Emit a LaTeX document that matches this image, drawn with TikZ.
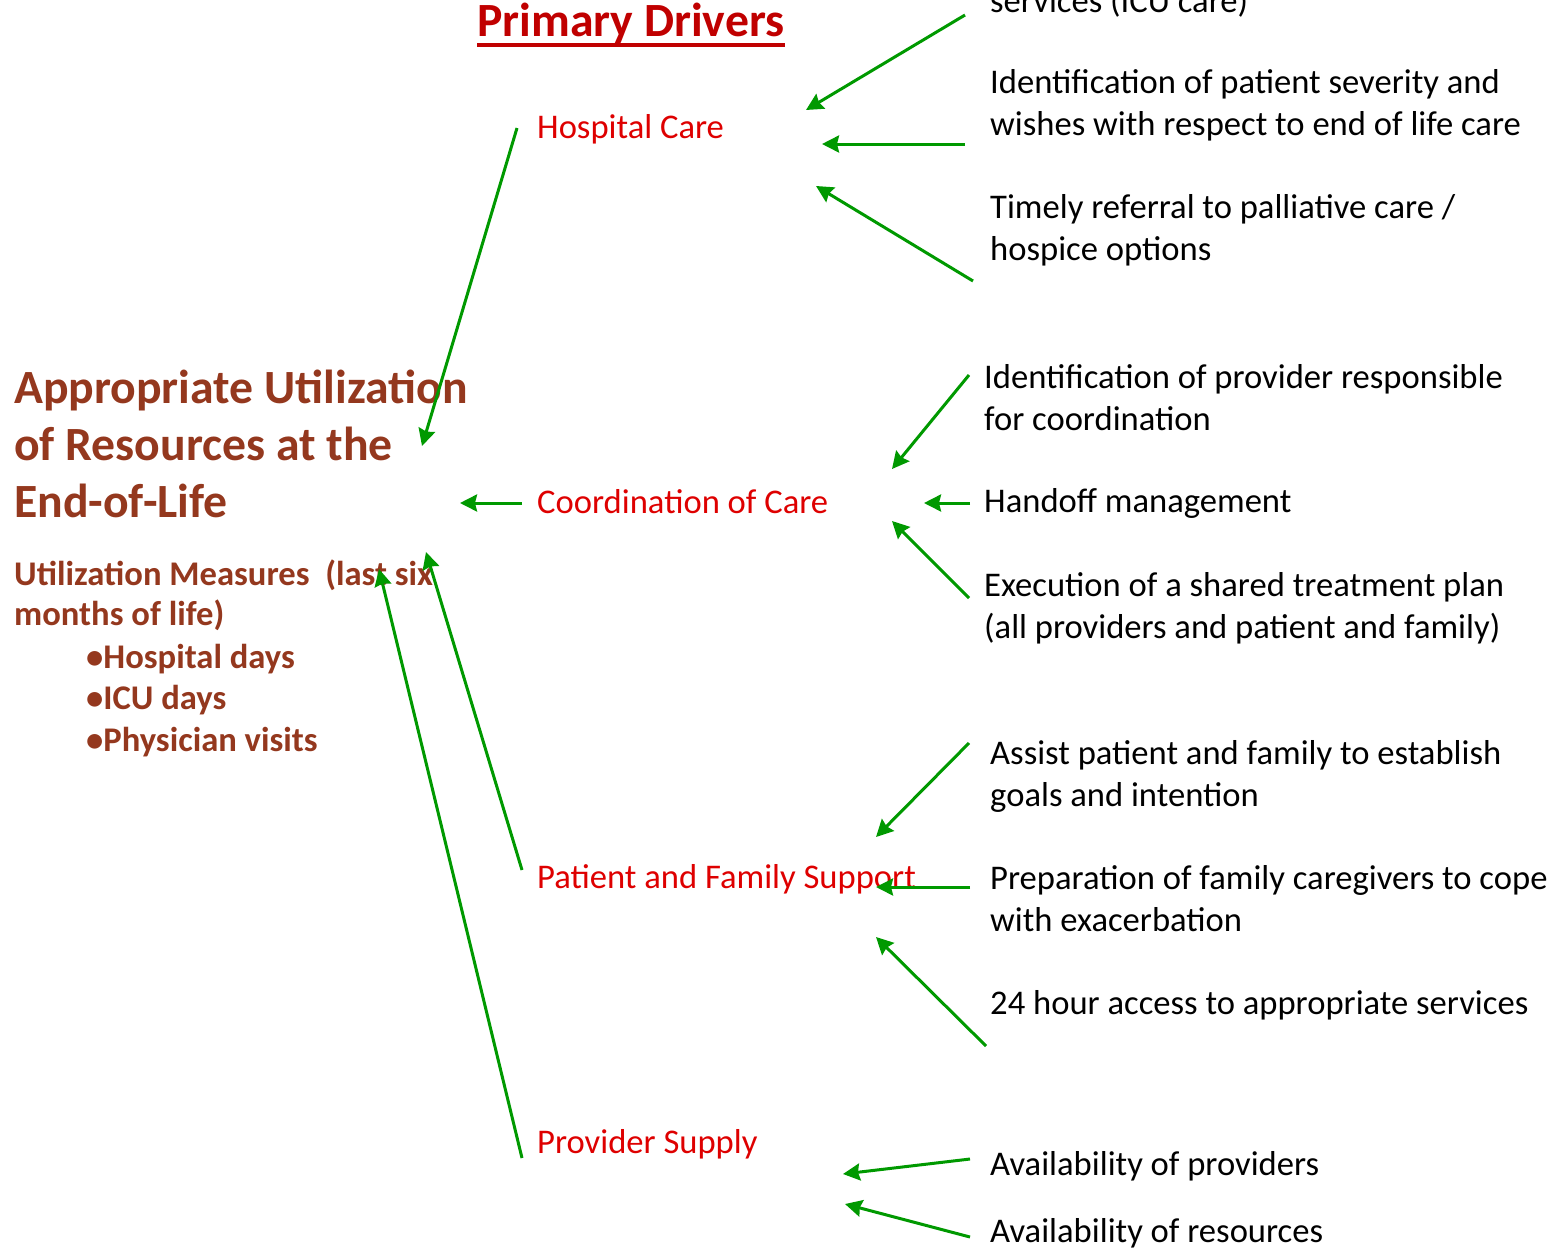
\documentclass[tikz,border=0pt]{standalone}
\usepackage{fontspec}
\setmainfont{Carlito}
\usepackage{tikz}
\usetikzlibrary{arrows.meta}
\definecolor{drvred}{RGB}{222,0,0}
\definecolor{headred}{RGB}{192,0,0}
\definecolor{aimbrown}{RGB}{148,56,30}
\definecolor{linkgreen}{RGB}{0,153,0}
\tikzstyle{drv}=[anchor=base west, inner sep=0pt, text=drvred, font=\fontsize{34.6}{42}\selectfont]
\tikzstyle{idea}=[anchor=base west, inner sep=0pt, align=left, font=\fontsize{34.6}{42}\selectfont]
\tikzstyle{aimtxt}=[anchor=base west, inner sep=0pt, align=left, text=aimbrown]
\tikzstyle{link}=[-{Stealth[length=17pt, width=17pt, inset=2pt]}, draw=linkgreen, line width=3pt]

\begin{document}
\begin{tikzpicture}[x=1pt, y=-1pt]
                    \useasboundingbox (0,0) rectangle (1554,1248);
                    % heading
                    \node [anchor=base west, inner sep=0pt, text=headred, font=\bfseries\fontsize{47.7}{57}\selectfont] (head) at (477,36) {Primary Drivers};
                    \draw [headred, line width=4pt] ([yshift=-8.5pt]head.base west) -- ([yshift=-8.5pt]head.base east);
                    % aim and its measures (base = last line)
                    \node [aimtxt, font=\bfseries\fontsize{47.7}{57}\selectfont] (aim) at (14,517) {Appropriate Utilization\\of Resources at the\\End-of-Life};
                    \node [aimtxt, font=\bfseries\fontsize{34.6}{40}\selectfont] (meas) at (14,625) {Utilization Measures\ \ (last six\\months of life)};
                    \node [aimtxt, font=\bfseries\fontsize{34.6}{41.5}\selectfont] (bul) at (86,751) {•Hospital days\\•ICU days\\•Physician visits};
                    % primary drivers
                    \node [drv] (hc) at (537,138) {Hospital Care};
                    \node [drv] (cc) at (537,513) {Coordination of Care};
                    \node [drv] (pf) at (537,888) {Patient and Family Support};
                    \node [drv] (ps) at (537,1153) {Provider Supply};
                    % secondary drivers
                    \node [idea] (icu) at (990,12) {services (ICU care)};
                    \node [idea] (sev) at (990,135) {Identification of patient severity and\\wishes with respect to end of life care};
                    \node [idea] (ref) at (990,260) {Timely referral to palliative care /\\hospice options};
                    \node [idea] (resp) at (984,430) {Identification of provider responsible\\for coordination};
                    \node [idea] (hand) at (984,512) {Handoff management};
                    \node [idea] (plan) at (984,638) {Execution of a shared treatment plan\\(all providers and patient and family)};
                    \node [idea] (goal) at (990,806) {Assist patient and family to establish\\goals and intention};
                    \node [idea] (prep) at (990,931) {Preparation of family caregivers to cope\\with exacerbation};
                    \node [idea] (acc) at (990,1014) {24 hour access to appropriate services};
                    \node [idea] (avp) at (990,1175) {Availability of providers};
                    \node [idea] (avr) at (990,1242) {Availability of resources};
                    % arrow ends
                    \coordinate (icu-t) at (965,15);   \coordinate (hc-1) at (806,110);
                    \coordinate (sev-t) at (965,144);  \coordinate (hc-2) at (822,144);
                    \coordinate (ref-t) at (973,281);  \coordinate (hc-3) at (816,186);
                    \coordinate (hc-t) at (517,128);   \coordinate (aim-1) at (422,446);
                    \coordinate (cc-t) at (522,503);   \coordinate (aim-2) at (460,503);
                    \coordinate (pf-t) at (522,870);   \coordinate (aim-3) at (426,552);
                    \coordinate (ps-t) at (522,1158);  \coordinate (aim-4) at (379,569);
                    \coordinate (resp-t) at (969,375); \coordinate (cc-1) at (892,469);
                    \coordinate (hand-t) at (970,503); \coordinate (cc-2) at (924,503);
                    \coordinate (plan-t) at (969,598); \coordinate (cc-3) at (892,521);
                    \coordinate (goal-t) at (969,743); \coordinate (pf-1) at (876,837);
                    \coordinate (prep-t) at (970,887); \coordinate (pf-2) at (876,887);
                    \coordinate (acc-t) at (986,1046); \coordinate (pf-3) at (876,937);
                    \coordinate (avp-t) at (970,1159); \coordinate (ps-1) at (843,1174);
                    \coordinate (avr-t) at (970,1237); \coordinate (ps-2) at (845,1204);
                    % into hospital care
                    \draw [link] (icu-t) -- (hc-1);
                    \draw [link] (sev-t) -- (hc-2);
                    \draw [link] (ref-t) -- (hc-3);
                    % into the aim
                    \draw [link] (hc-t) -- (aim-1);
                    \draw [link] (cc-t) -- (aim-2);
                    \draw [link] (pf-t) -- (aim-3);
                    \draw [link] (ps-t) -- (aim-4);
                    % into coordination of care
                    \draw [link] (resp-t) -- (cc-1);
                    \draw [link] (hand-t) -- (cc-2);
                    \draw [link] (plan-t) -- (cc-3);
                    % into patient and family support
                    \draw [link] (goal-t) -- (pf-1);
                    \draw [link] (prep-t) -- (pf-2);
                    \draw [link] (acc-t) -- (pf-3);
                    % into provider supply
                    \draw [link] (avp-t) -- (ps-1);
                    \draw [link] (avr-t) -- (ps-2);
                \end{tikzpicture}
\end{document}
